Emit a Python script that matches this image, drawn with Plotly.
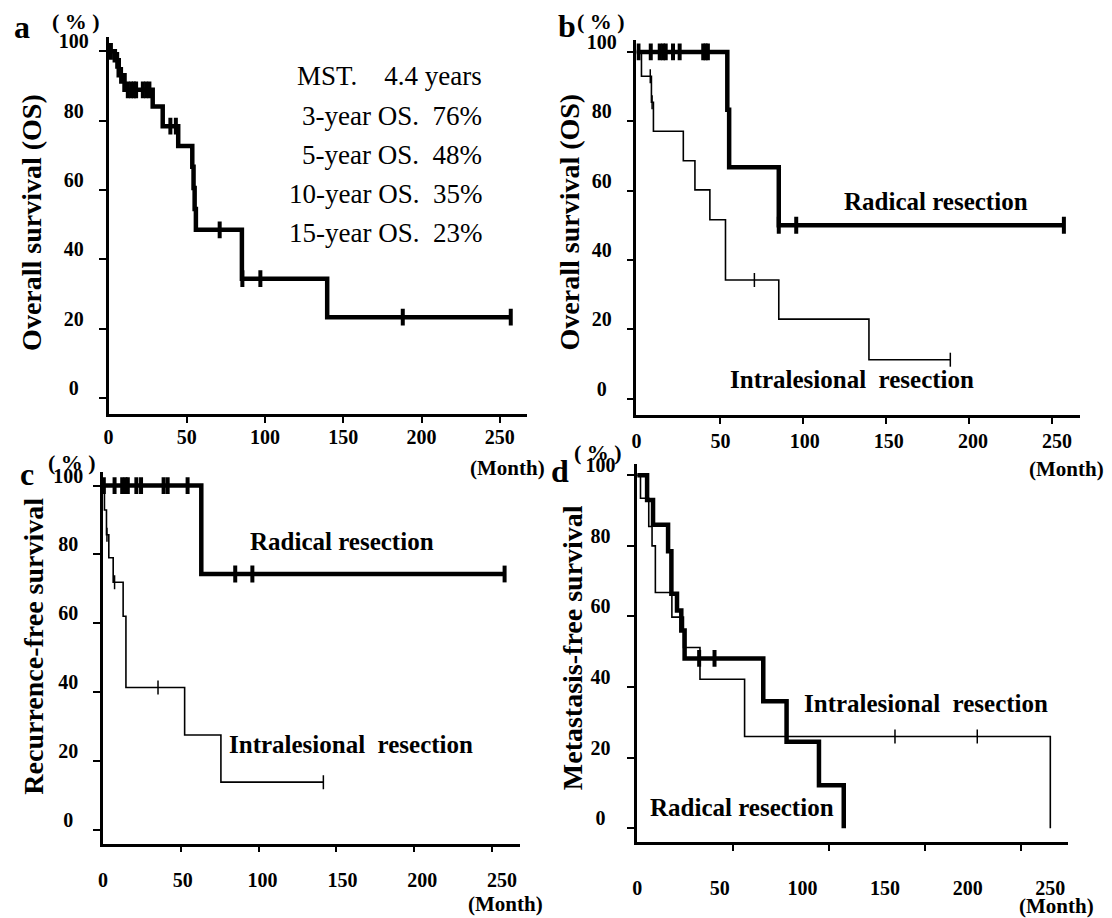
import plotly.graph_objects as go

W, H = 1112, 918
OFF = 8  # page body margin of the html page
SERIF = "Liberation Serif, 'Times New Roman', serif"

# ---------------- data (months, % surviving) ----------------
x_tick_vals = [0, 50, 100, 150, 200, 250]
x_tick_text = ["0", "50", "100", "150", "200", "250"]
y_tick_vals = [0, 20, 40, 60, 80, 100]
y_tick_text = ["0\u2002", "20\u2005", "40\u2005", "60\u2005", "80\u2005", "100"]

# a: overall survival, whole cohort
a_time = [0, 4.0, 6.5, 10.2, 28.2, 34.6, 44.5, 53.5, 54.3, 55.0, 55.8, 85.2, 139.7, 257.0]
a_surv = [100, 97.4, 93.1, 88.9, 84.1, 78.4, 72.7, 66.7, 60.6, 54.5, 48.5, 34.4, 23.3, 23.3]
a_cens = [1.5, 5.5, 8.0, 12.3, 14.4, 16.1, 17.6, 21.9, 24.0, 26.1, 39.5, 43.0, 71.0, 85.5, 97.0, 188.0, 257.0]

# b: overall survival by margin
b_rad_time = [0, 54.7, 55.8, 85.7, 257.4]
b_rad_surv = [100, 83.3, 66.7, 50.0, 50.0]
b_rad_cens = [1.2, 8.6, 14.0, 16.0, 17.6, 22.0, 26.0, 40.2, 41.6, 43.0, 85.7, 96.2, 257.4]
b_int_time = [0, 3.0, 9.0, 10.2, 28.2, 35.2, 44.2, 53.6, 85.7, 140.0, 189.0]
b_int_surv = [100, 93.0, 85.5, 77.1, 68.6, 60.2, 51.6, 34.2, 22.9, 11.2, 11.2]
b_int_cens = [8.3, 9.4, 71.0, 189.0]

# c: recurrence-free survival
c_rad_time = [0, 63.2, 258.0]
c_rad_surv = [100, 74.3, 74.3]
c_rad_cens = [0.6, 7.5, 12.4, 14.5, 16.0, 21.5, 24.5, 39.0, 41.6, 54.4, 85.0, 96.0, 258.0]
c_int_time = [0, 1.0, 2.3, 3.8, 6.6, 13.0, 14.8, 52.5, 75.8, 141.6]
c_int_surv = [100, 92.9, 85.7, 79.0, 71.9, 62.0, 41.3, 27.5, 13.8, 13.8]
c_int_cens = [2.6, 7.5, 35.4, 141.6]

# d: metastasis-free survival
d_rad_time = [0, 6.0, 9.6, 18.7, 20.7, 24.1, 26.7, 28.7, 76.3, 90.4, 110.0, 125.0]
d_rad_surv = [100, 93.0, 86.0, 78.5, 66.4, 61.7, 56.0, 48.1, 36.0, 24.5, 12.2, 0]
d_rad_cens = [37.5, 46.8]
d_int_time = [0, 2.0, 7.0, 9.0, 11.0, 21.0, 28.0, 38.0, 65.0, 250.0]
d_int_surv = [100, 93.5, 85.5, 80.0, 66.8, 59.8, 51.2, 42.2, 26.0, 0]
d_int_cens = [156.0, 205.8]

a_stats = ["MST.\u00a0\u00a0\u00a0\u00a04.4 years", "3-year OS.\u00a0\u00a076%", "5-year OS.\u00a0\u00a048%",
           "10-year OS.\u00a0\u00a035%", "15-year OS.\u00a0\u00a023%"]


def level(times, surv, t):
    v = surv[0]
    for ti, si in zip(times, surv):
        if ti <= t:
            v = si
    return v


def px(x):
    return (x - OFF) / W


def py(y):
    return 1 - (y - OFF) / H


# panel geometry in pixels: tick-mark scale (tp0, ts), label scale (lp0, ls), data scale (dp0, ds)
geo = {
    "a": dict(n=1, left=104, right=524, top=28.7, bottom=408.7, zero=392.7, pp=3.5,
              tp0=104, ts=1.572, lp0=104, ls=1.572, dp0=104, ds=1.572, lstand=3, ystand=6),
    "b": dict(n=2, left=634.3, right=1080, top=31.7, bottom=410, zero=393.3, pp=3.5,
              tp0=634.3, ts=1.668, lp0=634.3, ls=1.69, dp0=634.3, ds=1.668, lstand=6, ystand=6),
    "c": dict(n=3, left=98.3, right=517, top=467.3, bottom=842.7, zero=828.7, pp=3.475,
              tp0=98.3, ts=1.564, lp0=98.3, ls=1.604, dp0=98.3, ds=1.564, lstand=17, ystand=6),
    "d": dict(n=4, left=635, right=1068, top=459, bottom=841, zero=827.3, pp=3.565,
              tp0=635, ts=1.93, lp0=635, ls=1.66, dp0=635, ds=1.66, lstand=26, ystand=8),
}

fig = go.Figure()
layout = {}
TICKFONT = dict(family=SERIF, size=20, color="black", weight=700)

for key, g in geo.items():
    n = g["n"]
    sfx = "" if n == 1 else str(n)
    xdom = [px(g["left"]), px(g["right"])]
    ydom = [py(g["bottom"]), py(g["top"])]
    yr = [(g["zero"] - g["bottom"]) / g["pp"], (g["zero"] - g["top"]) / g["pp"]]
    lab_vals = [(g["lp0"] + g["ls"] * v - g["dp0"]) / g["ds"] for v in x_tick_vals]
    mark_vals = [(g["tp0"] + g["ts"] * v - g["dp0"]) / g["ds"] for v in x_tick_vals
                 if g["tp0"] + g["ts"] * v <= g["right"]]
    layout["xaxis" + sfx] = dict(
        domain=xdom, anchor="y" + sfx,
        range=[(g["left"] - g["dp0"]) / g["ds"], (g["right"] - g["dp0"]) / g["ds"]],
        showline=True, linecolor="black", linewidth=2.5,
        tickmode="array", tickvals=lab_vals, ticktext=x_tick_text, tickfont=TICKFONT,
        ticks="inside", ticklen=0, ticklabelstandoff=g["lstand"],
        minor=dict(tickmode="array", tickvals=mark_vals, ticks="outside", ticklen=6,
                   tickwidth=2, tickcolor="black", showgrid=False),
        showgrid=False, zeroline=False, fixedrange=True)
    layout["yaxis" + sfx] = dict(
        domain=ydom, anchor="x" + sfx, range=yr,
        showline=True, linecolor="black", linewidth=2.5,
        ticks="outside", ticklen=7, tickwidth=2, tickcolor="black",
        tickvals=y_tick_vals, ticktext=y_tick_text, tickfont=TICKFONT,
        ticklabelshift=-10, ticklabelstandoff=g["ystand"],
        showgrid=False, zeroline=False, fixedrange=True)


def add_km(key, times, surv, cens, thick):
    n = geo[key]["n"]
    sfx = "" if n == 1 else str(n)
    lw = 4.5 if thick else 1.6
    fig.add_trace(go.Scatter(x=times, y=surv, mode="lines", xaxis="x" + sfx, yaxis="y" + sfx,
                             line=dict(shape="hv", width=lw, color="black"),
                             showlegend=False, hoverinfo="skip"))
    fig.add_trace(go.Scatter(x=cens, y=[level(times, surv, t) for t in cens], mode="markers",
                             xaxis="x" + sfx, yaxis="y" + sfx, showlegend=False, hoverinfo="skip",
                             marker=dict(symbol="line-ns", size=12 if thick else 10,
                                         line=dict(width=4 if thick else 1.5, color="black"))))


add_km("a", a_time, a_surv, a_cens, True)
add_km("b", b_int_time, b_int_surv, b_int_cens, False)
add_km("b", b_rad_time, b_rad_surv, b_rad_cens, True)
add_km("c", c_int_time, c_int_surv, c_int_cens, False)
add_km("c", c_rad_time, c_rad_surv, c_rad_cens, True)
add_km("d", d_int_time, d_int_surv, d_int_cens, False)
add_km("d", d_rad_time, d_rad_surv, d_rad_cens, True)

ann = []


def text(x, y, s, size, bold=True, xanchor="center", angle=0):
    ann.append(dict(x=px(x), y=py(y), xref="paper", yref="paper", text=s, showarrow=False,
                    xanchor=xanchor, yanchor="middle", textangle=angle,
                    font=dict(family=SERIF, size=size, color="black", weight=700 if bold else 400)))


# panel letters
text(17, 18, "a", 32)
text(564, 17, "b", 32)
text(22, 470, "c", 32)
text(557, 466, "d", 32)
# (%) labels
for xr, yc in [(97, 13), (625, 13), (93, 458), (622, 448)]:
    text(xr, yc, "(\u2005%\u2005)", 22, xanchor="right")
# (Month) labels
for xl, yc in [(465, 463), (1027, 464), (463, 904), (1017, 906)]:
    text(xl, yc, "(Month)", 21, xanchor="left")
# axis titles
text(27, 215, "Overall survival (OS)", 28, angle=-90)
text(567, 215, "Overall survival (OS)", 28, angle=-90)
text(29, 643, "Recurrence-free survival", 28, angle=-90)
text(570, 645, "Metastasis-free survival", 28, angle=-90)
# stats in panel a
for i, s in enumerate(a_stats):
    text(481, 68 + 39.5 * i, s, 27, bold=False, xanchor="right")
# group labels
text(935, 194, "Radical resection", 25)
text(851, 374, "Intralesional\u00a0\u00a0resection", 25)
text(338, 538, "Radical resection", 25)
text(348, 743, "Intralesional\u00a0\u00a0resection", 25)
text(925, 701, "Intralesional\u00a0\u00a0resection", 25)
text(740, 806, "Radical resection", 25)

fig.update_layout(
    width=W, height=H, autosize=False,
    margin=dict(l=0, r=0, t=0, b=0),
    paper_bgcolor="white", plot_bgcolor="rgba(0,0,0,0)",
    showlegend=False, annotations=ann, **layout)

fig.write_html("out.html")
